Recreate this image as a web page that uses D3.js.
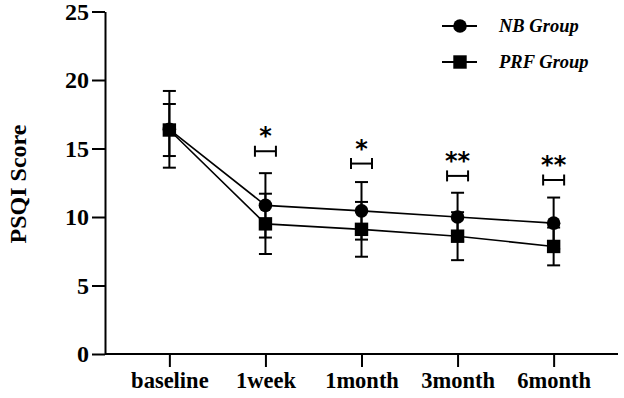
<!DOCTYPE html>
<html>
<head>
<meta charset="utf-8">
<script src="https://cdn.jsdelivr.net/npm/d3@7"></script>
<style>
    body { margin: 0; background: #fff; }
    text { font-family: "Liberation Serif", "Times New Roman", serif; font-weight: bold; }
</style>
</head>
<body>
<div id="chart"></div>
<script>
// Data
const timepoints = ["baseline", "1week", "1month", "3month", "6month"];
const nbMean = [16.4, 10.85, 10.45, 10.0, 9.55];
const nbSD = [2.8, 2.35, 2.1, 1.77, 1.87];
const prfMean = [16.35, 9.5, 9.1, 8.6, 7.85];
const prfSD = [1.9, 2.2, 2.0, 1.75, 1.38];
const sigLabels = ["", "*", "*", "**", "**"];
const sigLevel = [null, 14.8, 13.9, 13.0, 12.7];
const yTicks = [0, 5, 10, 15, 20, 25];

const W = 624, H = 398;
const svg = d3.select("#chart").append("svg")
    .attr("width", W)
    .attr("height", H);

// Scales
const x = d3.scalePoint()
    .domain(timepoints)
    .range([105, 618])
    .padding(0.67);

const y = d3.scaleLinear()
    .domain([0, 25])
    .range([354, 11.5]);

// Y axis
const yAxis = svg.append("g")
    .attr("transform", "translate(105,0)")
    .call(d3.axisLeft(y).tickValues(yTicks).tickSize(13).tickPadding(3).tickSizeOuter(0));
yAxis.select(".domain").attr("stroke-width", 2);
yAxis.selectAll(".tick line").attr("stroke-width", 2);
yAxis.selectAll("text")
    .attr("font-size", 24)
    .attr("fill", "#000")
    .style("font-family", "Liberation Serif, serif")
    .style("font-weight", "bold");

// X axis
const xAxis = svg.append("g")
    .attr("transform", "translate(0,354)")
    .call(d3.axisBottom(x).tickSize(13).tickPadding(5).tickSizeOuter(0));
xAxis.select(".domain").attr("d", "M105,0H618").attr("stroke-width", 2);
xAxis.selectAll(".tick line").attr("stroke-width", 2);
xAxis.selectAll("text")
    .attr("font-size", 22.5)
    .attr("fill", "#000")
    .style("font-family", "Liberation Serif, serif")
    .style("font-weight", "bold");

// Y label
svg.append("text")
    .attr("transform", "translate(26,184) rotate(-90)")
    .attr("text-anchor", "middle")
    .attr("font-size", 24)
    .text("PSQI Score");

const groups = [
    { name: "NB Group", mean: nbMean, sd: nbSD, shape: d3.symbolCircle },
    { name: "PRF Group", mean: prfMean, sd: prfSD, shape: d3.symbolSquare }
];

const line = d3.line()
    .x((d, i) => x(timepoints[i]))
    .y(d => y(d));

const capW = 13;

groups.forEach(g => {
    // connecting line
    svg.append("path")
        .datum(g.mean)
        .attr("fill", "none")
        .attr("stroke", "#000")
        .attr("stroke-width", 1.6)
        .attr("d", line);

    // error bars
    const eb = svg.append("g");
    g.mean.forEach((m, i) => {
        const cx = x(timepoints[i]);
        const top = y(m + g.sd[i]), bot = y(m - g.sd[i]);
        eb.append("line").attr("x1", cx).attr("x2", cx).attr("y1", top).attr("y2", bot)
            .attr("stroke", "#000").attr("stroke-width", 2);
        [top, bot].forEach(yy => {
            eb.append("line").attr("x1", cx - capW / 2).attr("x2", cx + capW / 2)
                .attr("y1", yy).attr("y2", yy)
                .attr("stroke", "#000").attr("stroke-width", 2);
        });
    });
});

// markers on top
groups.forEach(g => {
    const size = g.shape === d3.symbolCircle ? 145 : 180;
    svg.selectAll(null)
        .data(g.mean)
        .enter()
        .append("path")
        .attr("d", d3.symbol().type(g.shape).size(size))
        .attr("transform", (d, i) => `translate(${x(timepoints[i])},${y(d)})`)
        .attr("fill", "#000");
});

// significance brackets
timepoints.forEach((t, i) => {
    if (sigLevel[i] == null) return;
    const cx = x(t), yy = y(sigLevel[i]);
    const hw = 10.5;
    const b = svg.append("g").attr("stroke", "#000").attr("stroke-width", 2);
    b.append("line").attr("x1", cx - hw).attr("x2", cx + hw).attr("y1", yy).attr("y2", yy);
    b.append("line").attr("x1", cx - hw).attr("x2", cx - hw).attr("y1", yy - 5.5).attr("y2", yy + 5.5);
    b.append("line").attr("x1", cx + hw).attr("x2", cx + hw).attr("y1", yy - 5.5).attr("y2", yy + 5.5);
    svg.append("text")
        .attr("x", cx)
        .attr("y", yy - 7)
        .attr("text-anchor", "middle")
        .attr("font-size", 24)
        .style("font-family", "DejaVu Sans, sans-serif")
        .text(sigLabels[i]);
});

// legend
const legend = svg.append("g");
groups.forEach((g, i) => {
    const ly = 26 + i * 36;
    legend.append("line")
        .attr("x1", 442).attr("x2", 477).attr("y1", ly).attr("y2", ly)
        .attr("stroke", "#000").attr("stroke-width", 2);
    legend.append("path")
        .attr("d", d3.symbol().type(g.shape).size(g.shape === d3.symbolCircle ? 145 : 180))
        .attr("transform", `translate(460,${ly})`)
        .attr("fill", "#000");
    legend.append("text")
        .attr("x", 499)
        .attr("y", ly + 6)
        .attr("font-size", 18.5)
        .style("font-style", "italic")
        .text(g.name);
});
</script>
</body>
</html>
